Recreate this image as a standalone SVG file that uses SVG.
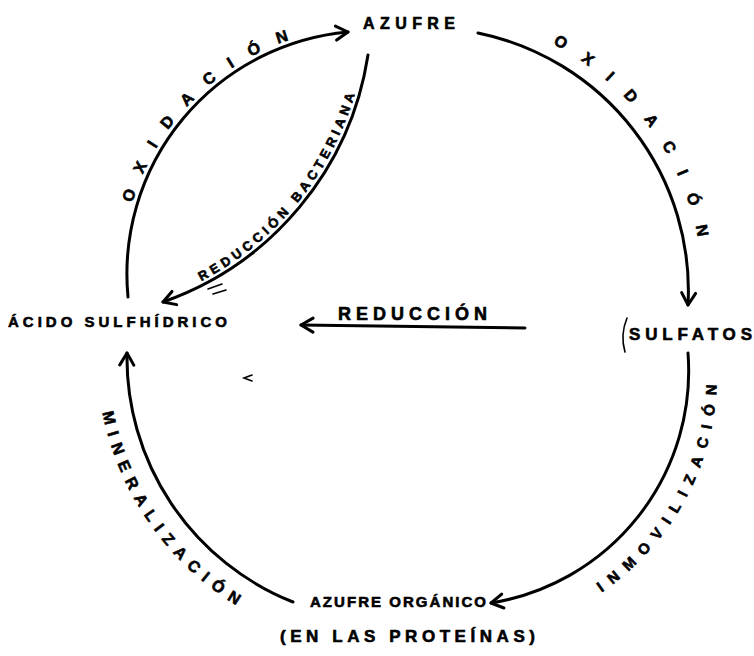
<svg xmlns="http://www.w3.org/2000/svg" width="754" height="656" viewBox="0 0 754 656">
<style>
.lbl{font-family:"Liberation Sans","DejaVu Sans",Arial,sans-serif;font-weight:bold;fill:#000;stroke:#000;stroke-width:0.6;stroke-linejoin:round}
.arc{fill:none;stroke:#000;stroke-width:3;stroke-linecap:round}
.mark{fill:none;stroke:#000;stroke-width:1.6;stroke-linecap:round}
</style>
<defs>
<marker id="ah" viewBox="0 0 18 18" refX="15" refY="9" markerWidth="18" markerHeight="18" markerUnits="userSpaceOnUse" orient="auto">
<path d="M3,2 L15,9 L3,16" fill="none" stroke="#000" stroke-width="3" stroke-linecap="round" stroke-linejoin="round"/>
</marker>
<path id="tpOxL" d="M132.4,203.2 A247,247 0 0 1 347.5,27.9"/>
<path id="tpOxR" d="M552.5,44 A278,278 0 0 1 701.9,315.2"/>
<path id="tpRB" d="M201.2,281.2 A308,308 0 0 0 362.3,61.5"/>
<path id="tpMin" d="M102.5,412.4 A293,293 0 0 0 289.8,631.3"/>
<path id="tpInm" d="M601.4,592.4 A264,264 0 0 0 701.1,283.7"/>
</defs>
<rect width="754" height="656" fill="#fff"/>

<g id="connectors">
<path class="arc" d="M128,297 A243,243 0 0 1 348,32" marker-end="url(#ah)"/>
<path class="arc" d="M478,33 A263,263 0 0 1 688,305" marker-end="url(#ah)"/>
<path class="arc" d="M688,353 A235,235 0 0 1 491,603" marker-end="url(#ah)"/>
<path class="arc" d="M293,602 A263,263 0 0 1 127,353" marker-end="url(#ah)"/>
<path class="arc" d="M368,55 A312,312 0 0 1 163,302" marker-end="url(#ah)"/>
<path class="arc" d="M525,328 L301,325" marker-end="url(#ah)"/>

<text class="lbl" font-size="16" letter-spacing="18"><textPath href="#tpOxL">OXIDACIÓN</textPath></text>
<text class="lbl" font-size="16" letter-spacing="19.9"><textPath href="#tpOxR">OXIDACIÓN</textPath></text>
<text class="lbl" font-size="13" letter-spacing="4.2"><textPath href="#tpRB">REDUCCIÓN BACTERIANA</textPath></text>
<text class="lbl" font-size="16" letter-spacing="7.9"><textPath href="#tpMin">MINERALIZACIÓN</textPath></text>
<text class="lbl" font-size="15" letter-spacing="9.4"><textPath href="#tpInm">INMOVILIZACIÓN</textPath></text>
<text class="lbl" x="338" y="320" font-size="18" textLength="149" lengthAdjust="spacing">REDUCCIÓN</text>
</g>

<g id="azufre">
<text class="lbl" x="363" y="29" font-size="16" textLength="92" lengthAdjust="spacing">AZUFRE</text>
</g>

<g id="acido-sulfhidrico">
<text class="lbl" x="8" y="327" font-size="15" textLength="219" lengthAdjust="spacing">ÁCIDO SULFHÍDRICO</text>
</g>

<g id="sulfatos">
<path class="mark" d="M627,318 Q620,335 625,352"/>
<text class="lbl" x="629" y="340" font-size="17" textLength="123" lengthAdjust="spacing">SULFATOS</text>
</g>

<g id="azufre-organico">
<text class="lbl" x="310" y="607" font-size="15" textLength="176" lengthAdjust="spacing">AZUFRE ORGÁNICO</text>
<text class="lbl" x="280" y="642" font-size="17" textLength="255" lengthAdjust="spacing">(EN LAS PROTEÍNAS)</text>
</g>

<g id="marks">
<path class="mark" d="M252,375 L244,378 L252,381"/>
<path class="mark" d="M208,289 L222,284 M213,294 L226,290"/>
</g>
</svg>
